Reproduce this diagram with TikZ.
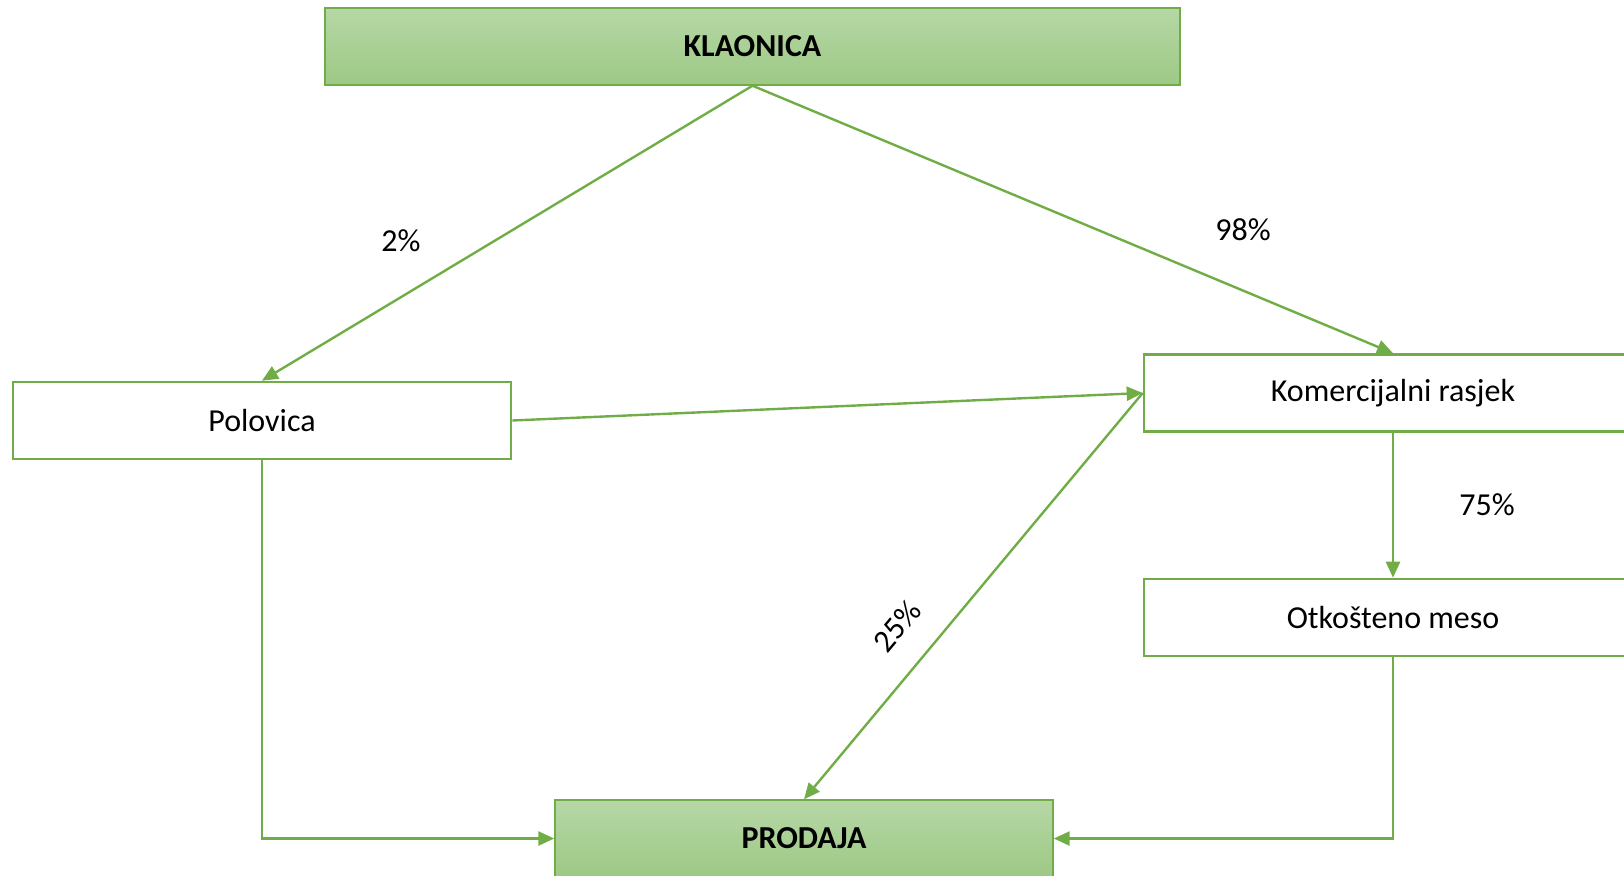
\documentclass[tikz,border=0pt]{standalone}
\usepackage{fontspec}
\setmainfont{Carlito}
\usetikzlibrary{arrows.meta}

\definecolor{okvir}{RGB}{112,173,71}
\definecolor{zelenagore}{RGB}{182,215,166}
\definecolor{zelenadolje}{RGB}{157,201,133}

\begin{document}
\begin{tikzpicture}[x=0.5pt,y=-0.5pt]

\useasboundingbox (0,0) rectangle (1624,875);

\tikzstyle{kutija} = [rectangle, draw=okvir, line width=1.3pt, inner sep=0pt, minimum width=249pt, minimum height=38.5pt, font=\fontsize{16}{19}\selectfont]
\tikzstyle{glavna} = [kutija, top color=zelenagore, bottom color=zelenadolje, line width=0.7pt, font=\fontsize{16}{19}\selectfont\bfseries]
\tikzstyle{veza} = [draw=okvir, line width=1.2pt, -{Triangle[length=8pt,width=7pt]}]
\tikzstyle{postotak} = [font=\fontsize{16}{19}\selectfont]

\node (klaonica) [glavna, minimum width=427.5pt] at (752.5,46.5) {KLAONICA};
\node (polovica) [kutija] at (262,420.5) {Polovica};
\node (rasjek) [kutija] at (1393,393) {Komercijalni rasjek};
\node (meso) [kutija] at (1393,617.5) {Otkošteno meso};
\node (prodaja) [glavna] at (804,838.5) {PRODAJA};

\draw[veza] (klaonica.south) -- (polovica.north);
\draw[veza] (klaonica.south) -- (rasjek.north);
\draw[veza] (polovica.east) -- (rasjek.west);
\draw[veza] (rasjek.west) -- (prodaja.north);
\draw[veza] (rasjek.south) -- (meso.north);
\draw[veza] (polovica.south) |- (prodaja.west);
\draw[veza] (meso.south) |- (prodaja.east);

% postoci
\node (p2) [postotak] at (401,241) {2\%};
\node (p98) [postotak] at (1243,230) {98\%};
\node (p75) [postotak] at (1487,505) {75\%};
\node (p25) [postotak, rotate=50] at (897,626) {25\%};

\end{tikzpicture}
\end{document}
